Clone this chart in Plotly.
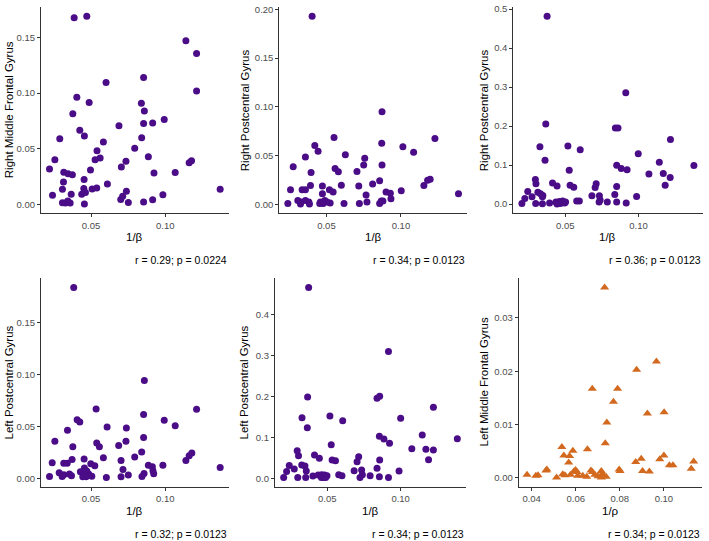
import plotly.graph_objects as go

W, H = 709, 541

# ---------------- data ----------------
p1_x = [0.0386, 0.0471, 0.1139, 0.1211, 0.1211, 0.0854, 0.0601, 0.0404, 0.0487, 0.0377,
        0.0839, 0.0859, 0.0854, 0.0915, 0.0993, 0.0688, 0.0424, 0.0455, 0.0289, 0.0583,
        0.0841, 0.0794, 0.0540, 0.0561, 0.0527, 0.0886, 0.0735, 0.0704, 0.0256, 0.0220,
        0.0496, 0.0316, 0.0345, 0.0374, 0.0314, 0.0453, 0.0610, 0.0924, 0.1067, 0.1161,
        0.1177, 0.1370, 0.0307, 0.0240, 0.0366, 0.0451, 0.0437, 0.0462, 0.0507, 0.0538,
        0.0700, 0.0713, 0.0738, 0.0751, 0.0854, 0.0915, 0.0984, 0.0307, 0.0327, 0.0343,
        0.0359, 0.0455]
p1_y = [0.1677, 0.1689, 0.1470, 0.1355, 0.1019, 0.1140, 0.1095, 0.0963, 0.0915, 0.0815,
        0.0909, 0.0838, 0.0726, 0.0732, 0.0762, 0.0706, 0.0667, 0.0614, 0.0590, 0.0561,
        0.0599, 0.0505, 0.0481, 0.0416, 0.0402, 0.0428, 0.0387, 0.0337, 0.0402, 0.0319,
        0.0310, 0.0289, 0.0275, 0.0266, 0.0201, 0.0224, 0.0183, 0.0283, 0.0286, 0.0375,
        0.0393, 0.0136, 0.0136, 0.0083, 0.0092, 0.0142, 0.0092, 0.0106, 0.0139, 0.0148,
        0.0044, 0.0074, 0.0118, 0.0018, 0.0021, 0.0041, 0.0086, 0.0015, 0.0012, 0.0030,
        0.0012, 0.0003]

p2_x = [0.0404, 0.0873, 0.0551, 0.0422, 0.0444, 0.0627, 0.0359, 0.0871, 0.1013, 0.1085,
        0.1228, 0.0757, 0.0750, 0.0873, 0.0277, 0.0558, 0.0580, 0.0397, 0.0705, 0.0857,
        0.0810, 0.0600, 0.0473, 0.0393, 0.0717, 0.1154, 0.1179, 0.1196, 0.0259, 0.0337,
        0.0359, 0.0520, 0.0545, 0.0473, 0.0766, 0.0900, 0.0929, 0.1002, 0.1386, 0.0933,
        0.0879, 0.0308, 0.0330, 0.0359, 0.0382, 0.0460, 0.0489, 0.0504, 0.0241, 0.0326,
        0.0386, 0.0455, 0.0478, 0.0525, 0.0618, 0.0721, 0.0772, 0.0857, 0.0868, 0.0473]
p2_y = [0.1929, 0.0949, 0.0686, 0.0605, 0.0544, 0.0510, 0.0486, 0.0628, 0.0591, 0.0534,
        0.0676, 0.0473, 0.0405, 0.0405, 0.0385, 0.0368, 0.0334, 0.0328, 0.0338, 0.0243,
        0.0209, 0.0196, 0.0189, 0.0193, 0.0189, 0.0193, 0.0247, 0.0257, 0.0149, 0.0149,
        0.0149, 0.0149, 0.0128, 0.0108, 0.0095, 0.0128, 0.0115, 0.0139, 0.0108, 0.0057,
        0.0034, 0.0040, 0.0024, 0.0040, 0.0024, 0.0024, 0.0040, 0.0024, 0.0010, 0.0003,
        0.0003, 0.0010, 0.0010, 0.0014, 0.0010, 0.0010, 0.0024, 0.0010, 0.0034, 0.0014]

p3_x = [0.0376, 0.0913, 0.0367, 0.0842, 0.0860, 0.1218, 0.0327, 0.0518, 0.0602, 0.0998,
        0.0362, 0.1142, 0.0851, 0.1378, 0.0882, 0.0922, 0.0527, 0.1071, 0.1169, 0.1216,
        0.0296, 0.0300, 0.0413, 0.0444, 0.0533, 0.0558, 0.0711, 0.0704, 0.0851, 0.1182,
        0.0244, 0.0313, 0.0331, 0.0347, 0.0273, 0.0344, 0.0682, 0.0733, 0.0838, 0.0987,
        0.0224, 0.0738, 0.0204, 0.0298, 0.0344, 0.0393, 0.0436, 0.0460, 0.0482, 0.0502,
        0.0444, 0.0467, 0.0496, 0.0596, 0.0578, 0.0731, 0.0787, 0.0851, 0.0916]
p3_y = [0.4814, 0.2855, 0.2052, 0.1951, 0.1951, 0.1655, 0.1470, 0.1486, 0.1394, 0.1292,
        0.1123, 0.1073, 0.0997, 0.0988, 0.0912, 0.0878, 0.0870, 0.0769, 0.0785, 0.0684,
        0.0633, 0.0524, 0.0541, 0.0465, 0.0481, 0.0431, 0.0524, 0.0422, 0.0448, 0.0481,
        0.0321, 0.0304, 0.0262, 0.0220, 0.0186, 0.0186, 0.0211, 0.0211, 0.0245, 0.0194,
        0.0144, 0.0101, 0.0017, 0.0017, 0.0010, 0.0025, 0.0051, 0.0068, 0.0076, 0.0051,
        0.0000, 0.0017, 0.0025, 0.0076, 0.0076, 0.0051, 0.0051, 0.0051, 0.0025]

p4_x = [0.0383, 0.0859, 0.0534, 0.1211, 0.0406, 0.0424, 0.0854, 0.0993, 0.1067, 0.0608,
        0.0738, 0.0341, 0.0854, 0.0256, 0.0538, 0.0556, 0.0377, 0.0686, 0.0735, 0.0841,
        0.0794, 0.0583, 0.0372, 0.0453, 0.0702, 0.1139, 0.1161, 0.1179, 0.0238, 0.0316,
        0.0339, 0.0498, 0.0525, 0.0886, 0.0913, 0.0984, 0.1370, 0.0715, 0.0917, 0.0922,
        0.0857, 0.0285, 0.0316, 0.0354, 0.0368, 0.0220, 0.0305, 0.0428, 0.0455, 0.0460,
        0.0471, 0.0484, 0.0444, 0.0466, 0.0505, 0.0603, 0.0702, 0.0751, 0.0843]
p4_y = [0.1837, 0.0941, 0.0668, 0.0665, 0.0565, 0.0543, 0.0614, 0.0560, 0.0507, 0.0495,
        0.0485, 0.0463, 0.0395, 0.0357, 0.0340, 0.0305, 0.0305, 0.0318, 0.0357, 0.0254,
        0.0206, 0.0199, 0.0183, 0.0186, 0.0173, 0.0173, 0.0218, 0.0244, 0.0151, 0.0145,
        0.0145, 0.0141, 0.0122, 0.0128, 0.0112, 0.0128, 0.0106, 0.0087, 0.0074, 0.0045,
        0.0048, 0.0055, 0.0035, 0.0042, 0.0026, 0.0019, 0.0019, 0.0064, 0.0100, 0.0045,
        0.0071, 0.0042, 0.0016, 0.0016, 0.0022, 0.0010, 0.0016, 0.0032, 0.0019]

p5_x = [0.0373, 0.0917, 0.0366, 0.0839, 0.0857, 0.1223, 0.0328, 0.0518, 0.0605, 0.1000,
        0.0364, 0.0527, 0.1147, 0.1386, 0.0855, 0.0886, 0.0924, 0.1076, 0.1172, 0.1223,
        0.1190, 0.0295, 0.0304, 0.0413, 0.0446, 0.0533, 0.0556, 0.0714, 0.0703, 0.0857,
        0.0241, 0.0326, 0.0348, 0.0223, 0.0275, 0.0357, 0.0683, 0.0734, 0.0839, 0.0989,
        0.0739, 0.0203, 0.0299, 0.0353, 0.0402, 0.0438, 0.0462, 0.0482, 0.0460, 0.0478,
        0.0498, 0.0578, 0.0600, 0.0723, 0.0792, 0.0855, 0.0917, 0.0489]
p5_y = [0.4670, 0.3102, 0.1992, 0.1960, 0.2010, 0.1739, 0.1486, 0.1527, 0.1412, 0.1469,
        0.1241, 0.0824, 0.1061, 0.0971, 0.1029, 0.0963, 0.0857, 0.0727, 0.0710, 0.0694,
        0.0457, 0.0678, 0.0555, 0.0571, 0.0490, 0.0449, 0.0433, 0.0531, 0.0408, 0.0449,
        0.0318, 0.0327, 0.0302, 0.0171, 0.0229, 0.0180, 0.0188, 0.0204, 0.0245, 0.0180,
        0.0090, 0.0024, 0.0024, 0.0024, 0.0057, 0.0082, 0.0090, 0.0082, 0.0024, 0.0024,
        0.0065, 0.0090, 0.0065, 0.0024, 0.0065, 0.0041, 0.0024, 0.0024]

p6_x = [0.0731, 0.0966, 0.0876, 0.0675, 0.0790, 0.0771, 0.0925, 0.1001, 0.0741, 0.0734,
        0.0537, 0.0653, 0.0587, 0.0546, 0.0572, 0.0568, 0.1000, 0.0981, 0.0897, 0.0872,
        0.1135, 0.1025, 0.1041, 0.0903, 0.0934, 0.0797, 0.0801, 0.1124, 0.0379, 0.0419,
        0.0429, 0.0465, 0.0469, 0.0513, 0.0541, 0.0551, 0.0576, 0.0591, 0.0599, 0.0606,
        0.0609, 0.0632, 0.0650, 0.0669, 0.0676, 0.0687, 0.0701, 0.0716, 0.0721, 0.0726,
        0.0738, 0.0716]
p6_y = [0.0357, 0.0218, 0.0203, 0.0167, 0.0167, 0.0143, 0.0121, 0.0123, 0.0104, 0.0065,
        0.0058, 0.0054, 0.0051, 0.0042, 0.0041, 0.0029, 0.0042, 0.0035, 0.0036, 0.0030,
        0.0031, 0.0024, 0.0024, 0.0013, 0.0012, 0.0016, 0.0013, 0.0017, 0.0006, 0.0004,
        0.0005, 0.0014, 0.0016, 0.0001, 0.0007, 0.0005, 0.0006, 0.0012, 0.0015, 0.0011,
        0.0004, 0.0004, 0.0002, 0.0014, 0.0011, 0.0006, 0.0003, 0.0013, 0.0008, 0.0004,
        0.0002, 0.0001]

y_titles = ["Right Middle Frontal Gyrus", "Right Postcentral Gyrus", "Right Postcentral Gyrus",
            "Left Postcentral Gyrus", "Left Postcentral Gyrus", "Left Middle Frontal Gyrus"]
x_titles = ["1/β", "1/β", "1/β", "1/β", "1/β", "1/ρ"]
stats = ["r = 0.29; p = 0.0224", "r = 0.34; p = 0.0123", "r = 0.36; p = 0.0123",
         "r = 0.32; p = 0.0123", "r = 0.34; p = 0.0123", "r = 0.34; p = 0.0123"]
x_ticks = [[0.05, 0.10]] * 5 + [[0.04, 0.06, 0.08, 0.10]]
y_ticks = [[0.00, 0.05, 0.10, 0.15],
           [0.00, 0.05, 0.10, 0.15, 0.20],
           [0.0, 0.1, 0.2, 0.3, 0.4, 0.5],
           [0.00, 0.05, 0.10, 0.15],
           [0.0, 0.1, 0.2, 0.3, 0.4],
           [0.00, 0.01, 0.02, 0.03]]
y_fmt = ["{:.2f}", "{:.2f}", "{:.1f}", "{:.2f}", "{:.1f}", "{:.2f}"]

xs = [p1_x, p2_x, p3_x, p4_x, p5_x, p6_x]
ys = [p1_y, p2_y, p3_y, p4_y, p5_y, p6_y]

# ---------------- layout (pixel geometry) ----------------
boxes = [(41, 228.7, 3, 211), (279.3, 467, 3, 211), (513.3, 702.5, 3, 211),
         (41, 228.7, 276, 486.5), (275, 466, 276, 486.5), (518.7, 702, 276, 486.5)]
ytitle_x = [9, 245, 484, 9, 244, 484]

PURPLE = "#4B0C87"
ORANGE = "#D2691E"
AXIS = "#333333"
FONT = "Liberation Sans, Arial, sans-serif"

fig = go.Figure()
layout = dict(width=W, height=H, margin=dict(l=0, r=0, t=0, b=0),
              paper_bgcolor="white", plot_bgcolor="white", showlegend=False,
              font=dict(family=FONT))
annotations = []


def expand(vals):
    lo, hi = min(vals), max(vals)
    pad = 0.05 * (hi - lo)
    return [lo - pad, hi + pad]


for i in range(6):
    n = "" if i == 0 else str(i + 1)
    L, R, T, B = boxes[i]
    xd = [L / W, R / W]
    yd = [1 - B / H, 1 - T / H]
    tri = (i == 5)
    fig.add_trace(go.Scatter(
        x=xs[i], y=ys[i], mode="markers",
        xaxis="x" + n, yaxis="y" + n,
        marker=dict(color=ORANGE if tri else PURPLE,
                    symbol="triangle-up" if tri else "circle",
                    size=8 if tri else 7, line=dict(width=0)),
        hoverinfo="x+y"))
    common = dict(showgrid=False, zeroline=False, showline=True, linecolor=AXIS,
                  linewidth=1.1, ticks="outside", ticklen=3, tickcolor=AXIS,
                  tickwidth=1, tickfont=dict(size=9.5, color="#4D4D4D", family=FONT),
                  ticklabeloverflow="allow", fixedrange=True)
    layout["xaxis" + n] = dict(domain=xd, anchor="y" + n, range=expand(xs[i]),
                               tickmode="array", tickvals=x_ticks[i],
                               ticktext=["{:.2f}".format(v) for v in x_ticks[i]], **common)
    layout["yaxis" + n] = dict(domain=yd, anchor="x" + n, range=expand(ys[i]),
                               tickmode="array", tickvals=y_ticks[i],
                               ticktext=[y_fmt[i].format(v) for v in y_ticks[i]], **common)
    cx = (L + R) / 2
    annotations.append(dict(text=x_titles[i], x=cx / W, y=1 - (B + 24) / H,
                            xref="paper", yref="paper", showarrow=False,
                            xanchor="center", yanchor="middle",
                            font=dict(size=11.5, color="black", family=FONT)))
    annotations.append(dict(text=y_titles[i], x=ytitle_x[i] / W, y=1 - (T + B) / 2 / H,
                            xref="paper", yref="paper", showarrow=False, textangle=-90,
                            xanchor="center", yanchor="middle",
                            font=dict(size=11.5, color="black", family=FONT)))
    annotations.append(dict(text=stats[i], x=R / W, y=1 - (B + 47) / H,
                            xref="paper", yref="paper", showarrow=False,
                            xanchor="right", yanchor="middle",
                            font=dict(size=10.5, color="black", family=FONT)))

layout["annotations"] = annotations
fig.update_layout(**layout)
fig.write_html("out.html")
